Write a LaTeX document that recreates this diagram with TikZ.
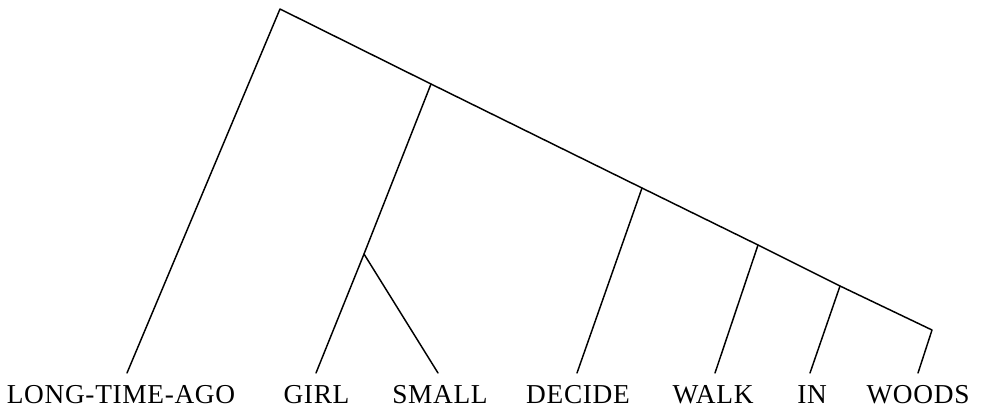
\documentclass[tikz,border=0pt]{standalone}
\usepackage{fontspec}
\setmainfont{Liberation Serif}[LetterSpace=2.5]
\begin{document}
\begin{tikzpicture}[x=0.75pt,y=-0.75pt,
  edge/.style={line width=1.1pt,line cap=round,line join=round},
  leaf/.style={anchor=base,inner sep=0pt,font=\fontsize{20.5pt}{24pt}\selectfont}]
\useasboundingbox (0,0) rectangle (984,410);
% internal nodes
\coordinate (root) at (280,9);
\coordinate (n1) at (431,84);
\coordinate (n2) at (364,254);
\coordinate (n3) at (642,188);
\coordinate (n4) at (758,245);
\coordinate (n5) at (840,286);
\coordinate (n6) at (932,330);
% leaf tips
\coordinate (p1) at (127,373);
\coordinate (p2) at (316,373);
\coordinate (p3) at (438,373);
\coordinate (p4) at (577,373);
\coordinate (p5) at (715,373);
\coordinate (p6) at (810,373);
\coordinate (p7) at (918,373);
% labels
\node[leaf] (t1) at (121,403) {LONG-TIME-AGO};
\node[leaf] (t2) at (316.5,403) {GIRL};
\node[leaf] (t3) at (440,403) {SMALL};
\node[leaf] (t4) at (578,403) {DECIDE};
\node[leaf] (t5) at (713,403) {WALK};
\node[leaf] (t6) at (812,403) {IN};
\node[leaf] (t7) at (918,403) {WOODS};
% edges
\draw[edge] (p1) -- (root) -- (n1) -- (n3) -- (n4) -- (n5) -- (n6) -- (p7);
\draw[edge] (n1) -- (n2) -- (p2);
\draw[edge] (n2) -- (p3);
\draw[edge] (n3) -- (p4);
\draw[edge] (n4) -- (p5);
\draw[edge] (n5) -- (p6);
\end{tikzpicture}
\end{document}
